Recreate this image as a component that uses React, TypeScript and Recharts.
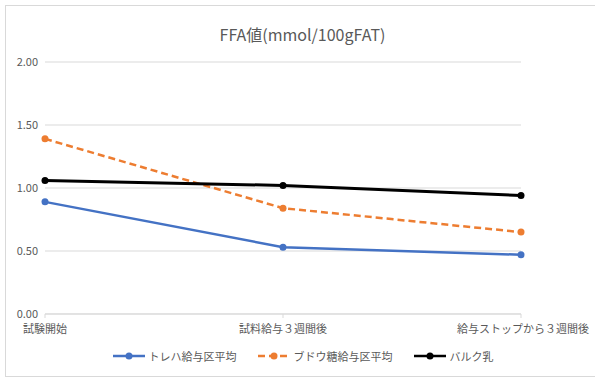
import React from "react";
import { LineChart, Line, XAxis, YAxis, CartesianGrid, Legend } from "recharts";

const categories = ["試験開始", "試料給与３週間後", "給与ストップから３週間後"];
const seriesNames = ["トレハ給与区平均", "ブドウ糖給与区平均", "バルク乳"];
const trehalose = [0.89, 0.53, 0.47];
const glucose = [1.39, 0.84, 0.65];
const bulk = [1.06, 1.02, 0.94];
const yTicks = [0, 0.5, 1.0, 1.5, 2.0];

const FONT = '"Noto Sans CJK JP", "Noto Sans", sans-serif';
const GREY = "#595959";

const data = categories.map((name, i) => ({
    name,
    trehalose: trehalose[i],
    glucose: glucose[i],
    bulk: bulk[i],
}));

// last label is pushed left so it stays inside the frame, like Excel does
const XTick = (props: any) => {
    const { x, y, payload, index } = props;
    const last = index === categories.length - 1;
    return (
        <text x={last ? 589 : x} y={y} dy="0.71em" textAnchor={last ? "end" : "middle"}
              fill={GREY} fontSize={11} fontFamily={FONT}>
            {payload.value}
        </text>
    );
};

const LegendContent = (props: any) => {
    const items = [...(props.payload || [])].sort(
        (a: any, b: any) => seriesNames.indexOf(a.value) - seriesNames.indexOf(b.value));
    return (
        <div style={{ display: "flex", justifyContent: "center", gap: 20, fontFamily: FONT, fontSize: 11, color: GREY }}>
            {items.map((it: any) => (
                <div key={it.value} style={{ display: "flex", alignItems: "center", gap: 3 }}>
                    <svg width={34} height={10}>
                        <line x1={1} y1={5} x2={33} y2={5} stroke={it.color} strokeWidth={2.5}
                              strokeDasharray={it.payload?.strokeDasharray} />
                        <circle cx={17} cy={5} r={3.5} fill={it.color} />
                    </svg>
                    <span>{it.value}</span>
                </div>
            ))}
        </div>
    );
};

export default function App() {
    return (
        <div style={{ position: "absolute", left: 0, top: 0, width: 595, height: 380, background: "#fff" }}>
            <div style={{ position: "absolute", left: 5, top: 5, width: 600, height: 370, border: "1px solid #d9d9d9" }} />
            <div style={{ position: "absolute", left: 0, top: 22, width: 605, textAlign: "center",
                          fontFamily: FONT, fontSize: 16, color: GREY }}>
                FFA値(mmol/100gFAT)
            </div>
            <LineChart width={595} height={380} data={data}
                       margin={{ top: 62, right: 74, bottom: 10, left: 0 }}>
                <CartesianGrid vertical={false} stroke="#d9d9d9" />
                <XAxis dataKey="name" padding={{ left: 0, right: 0 }} height={34}
                       stroke="#d9d9d9" tickSize={4} tickMargin={7} tick={<XTick />} interval={0} />
                <YAxis domain={[0, 2]} ticks={yTicks} width={45} axisLine={false} tickLine={false}
                       tickSize={0} tickMargin={7} tickFormatter={(v) => v.toFixed(2)}
                       tick={{ fill: GREY, fontSize: 11, fontFamily: FONT }} />
                <Legend verticalAlign="bottom" height={22} content={<LegendContent />}
                        wrapperStyle={{ left: 0, width: 605 }} />
                <Line dataKey="trehalose" name={seriesNames[0]} stroke="#4472c4" strokeWidth={2.5}
                      dot={{ r: 3.5, fill: "#4472c4", strokeWidth: 0 }} isAnimationActive={false} />
                <Line dataKey="glucose" name={seriesNames[1]} stroke="#ed7d31" strokeWidth={2.5}
                      strokeDasharray="7 4" dot={{ r: 3.5, fill: "#ed7d31", strokeWidth: 0, strokeDasharray: "" }}
                      isAnimationActive={false} />
                <Line dataKey="bulk" name={seriesNames[2]} stroke="#000000" strokeWidth={3}
                      dot={{ r: 3.5, fill: "#000000", strokeWidth: 0 }} isAnimationActive={false} />
            </LineChart>
        </div>
    );
}
